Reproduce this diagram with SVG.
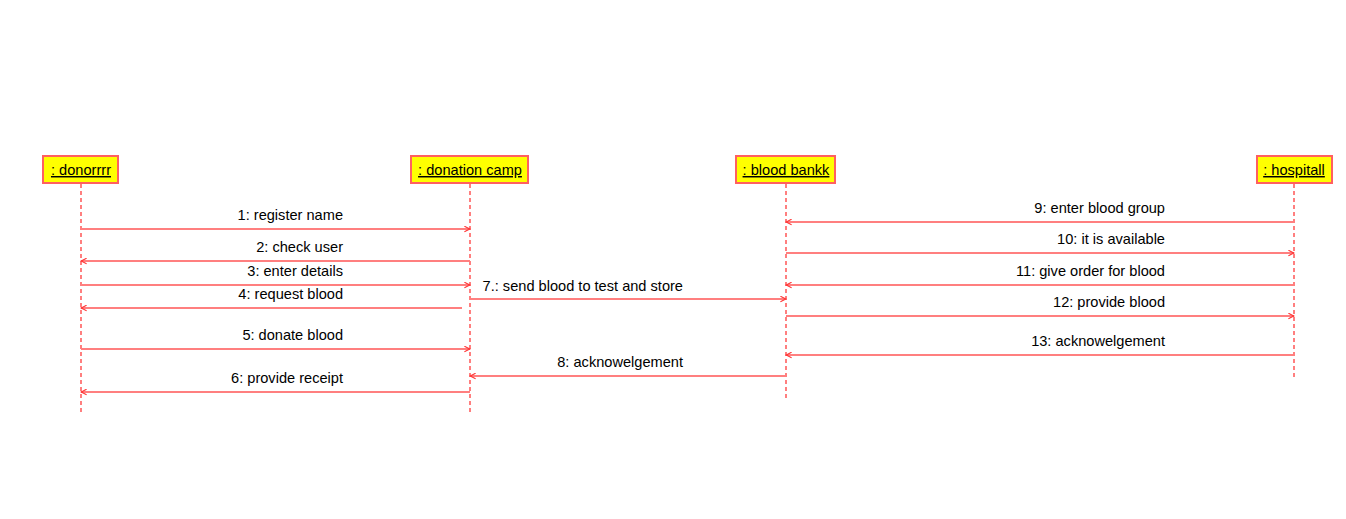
<svg xmlns="http://www.w3.org/2000/svg" width="1346" height="519" viewBox="0 0 1346 519">
<style>
.box{fill:#ffff00;stroke:#ff6060;stroke-width:2}
.name{font-family:"Liberation Sans",Arial,sans-serif;font-size:14.6px;fill:#000;text-anchor:middle;text-decoration:underline}
.life{stroke:#ff7f7f;stroke-width:2;stroke-dasharray:4 3;fill:none}
.msg{stroke:#ff7f7f;stroke-width:2;fill:none}
.lbl{font-family:"Liberation Sans",Arial,sans-serif;font-size:14.6px;fill:#000;text-anchor:end}
</style>
<defs>
<marker id="ah" viewBox="0 0 10 10" refX="9" refY="5" markerWidth="7" markerHeight="7" markerUnits="userSpaceOnUse" orient="auto">
<path d="M1,1 L9,5 L1,9" fill="none" stroke="#ff3030" stroke-width="1.5"/>
</marker>
</defs>
<rect width="1346" height="519" fill="#fff"/>
<g id="lifelines">
<line class="life" x1="81" y1="184" x2="81" y2="413"/>
<line class="life" x1="470" y1="184" x2="470" y2="413"/>
<line class="life" x1="786" y1="184" x2="786" y2="400"/>
<line class="life" x1="1294" y1="184" x2="1294" y2="378"/>
</g>
<g id="donor"><rect class="box" x="43" y="156" width="75" height="27"/><text class="name" x="81" y="175">: donorrrr</text></g>
<g id="camp"><rect class="box" x="411" y="156" width="117" height="27"/><text class="name" x="470" y="175">: donation camp</text></g>
<g id="bank"><rect class="box" x="736" y="156" width="99" height="27"/><text class="name" x="786" y="175">: blood bankk</text></g>
<g id="hospital"><rect class="box" x="1257" y="156" width="75" height="27"/><text class="name" x="1294" y="175">: hospitall</text></g>
<g id="connectors">
<line class="msg" x1="81" y1="229" x2="470" y2="229" marker-end="url(#ah)"/>
<line class="msg" x1="470" y1="261" x2="81" y2="261" marker-end="url(#ah)"/>
<line class="msg" x1="81" y1="285" x2="470" y2="285" marker-end="url(#ah)"/>
<line class="msg" x1="462" y1="308" x2="81" y2="308" marker-end="url(#ah)"/>
<line class="msg" x1="470" y1="299" x2="786" y2="299" marker-end="url(#ah)"/>
<line class="msg" x1="81" y1="349" x2="470" y2="349" marker-end="url(#ah)"/>
<line class="msg" x1="470" y1="392" x2="81" y2="392" marker-end="url(#ah)"/>
<line class="msg" x1="786" y1="376" x2="470" y2="376" marker-end="url(#ah)"/>
<line class="msg" x1="1294" y1="222" x2="786" y2="222" marker-end="url(#ah)"/>
<line class="msg" x1="786" y1="253" x2="1294" y2="253" marker-end="url(#ah)"/>
<line class="msg" x1="1294" y1="285" x2="786" y2="285" marker-end="url(#ah)"/>
<line class="msg" x1="786" y1="316" x2="1294" y2="316" marker-end="url(#ah)"/>
<line class="msg" x1="1294" y1="355" x2="786" y2="355" marker-end="url(#ah)"/>
<text class="lbl" x="343" y="220">1: register name</text>
<text class="lbl" x="343" y="252">2: check user</text>
<text class="lbl" x="343" y="276">3: enter details</text>
<text class="lbl" x="343" y="299">4: request blood</text>
<text class="lbl" x="683" y="291">7.: send blood to test and store</text>
<text class="lbl" x="343" y="340">5: donate blood</text>
<text class="lbl" x="343" y="383">6: provide receipt</text>
<text class="lbl" x="683" y="367">8: acknowelgement</text>
<text class="lbl" x="1165" y="213">9: enter blood group</text>
<text class="lbl" x="1165" y="244">10: it is available</text>
<text class="lbl" x="1165" y="276">11: give order for blood</text>
<text class="lbl" x="1165" y="307">12: provide blood</text>
<text class="lbl" x="1165" y="346">13: acknowelgement</text>
</g>
</svg>
